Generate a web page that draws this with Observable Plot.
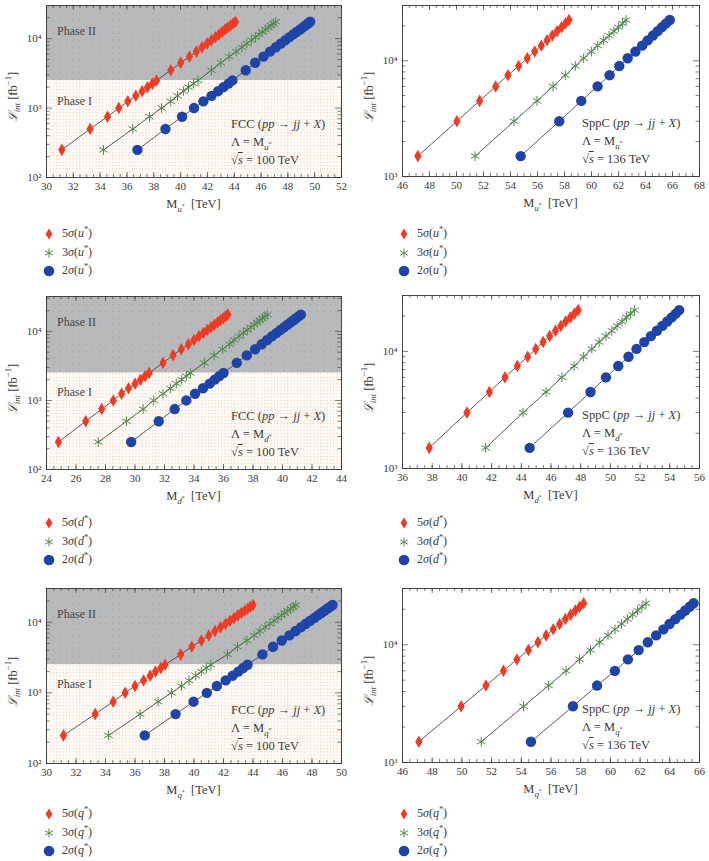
<!DOCTYPE html>
<html>
<head>
<meta charset="utf-8">
<script src="https://cdn.jsdelivr.net/npm/d3@7"></script>
<script src="https://cdn.jsdelivr.net/npm/@observablehq/plot@0.6"></script>
<style>
  body { margin: 0; background: #fff; }
  #fig { position: relative; width: 709px; height: 861px; font-family: "Liberation Serif", "DejaVu Serif", serif; color: #3a3a3a; }
  .abs { position: absolute; white-space: nowrap; }
  .ylab { font-size: 12.5px; transform: translate(-50%, -50%) rotate(-90deg); }
  .xlab { font-size: 12.5px; transform: translateX(-50%); }
  .ann { font-size: 12.5px; line-height: 18px; }
  .phase { font-size: 12px; color: #444; transform: translateY(-50%); }
  .leg { font-size: 12px; line-height: 18.5px; }
  .leg div { position: relative; height: 18.5px; }
  .leg svg { position: absolute; left: -7px; top: 3px; }
  .leg span { position: absolute; left: 13px; top: 0; }
  sub, sup { font-size: 70%; line-height: 0; }
</style>
</head>
<body>
<div id="fig"></div>
<script>
// Integrated luminosity steps (fb^-1)
const L_FCC = [250, 500, 750, 1000, 1250, 1500, 1750, 2000, 2250, 2500,
  3500, 4500, 5500, 6500, 7500, 8500, 9500, 10500, 11500, 12500, 13500, 14500, 15500, 16500, 17500];
const L_SPPC = [1500, 3000, 4500, 6000, 7500, 9000, 10500, 12000, 13500, 15000, 16500, 18000, 19500, 21000, 22500];
const PHASE_I_LIMIT = 2500;

// FCC reach, u* (TeV)
const uFCC_5s = [31.14, 33.25, 34.55, 35.39, 36.06, 36.66, 37.13, 37.53, 37.9, 38.2, 39.27, 40.01, 40.66, 41.18, 41.6, 41.98, 42.3, 42.6, 42.86, 43.1, 43.32, 43.52, 43.72, 43.92, 44.1];
const uFCC_3s = [34.25, 36.44, 37.68, 38.58, 39.27, 39.77, 40.22, 40.59, 40.96, 41.3, 42.3, 43.0, 43.62, 44.15, 44.57, 44.94, 45.28, 45.58, 45.85, 46.1, 46.32, 46.54, 46.74, 46.92, 47.1];
const uFCC_2s = [36.78, 38.87, 40.11, 41.0, 41.7, 42.3, 42.8, 43.2, 43.57, 43.87, 44.86, 45.56, 46.18, 46.67, 47.1, 47.48, 47.82, 48.12, 48.4, 48.66, 48.9, 49.12, 49.32, 49.5, 49.66];
// SppC reach, u*
const uSPPC_5s = [47.14, 50.03, 51.71, 52.9, 53.81, 54.6, 55.24, 55.79, 56.28, 56.71, 57.1, 57.45, 57.78, 58.07, 58.33];
const uSPPC_3s = [51.38, 54.26, 55.96, 57.15, 58.06, 58.8, 59.42, 59.99, 60.46, 60.9, 61.3, 61.66, 61.99, 62.3, 62.56];
const uSPPC_2s = [54.75, 57.61, 59.24, 60.45, 61.34, 62.06, 62.68, 63.25, 63.75, 64.16, 64.55, 64.9, 65.22, 65.52, 65.8];

// FCC reach, d*
const dFCC_5s = [24.81, 26.66, 27.74, 28.53, 29.09, 29.56, 30.0, 30.37, 30.69, 30.96, 31.9, 32.58, 33.14, 33.62, 34.0, 34.33, 34.63, 34.9, 35.15, 35.38, 35.6, 35.8, 35.98, 36.15, 36.3];
const dFCC_3s = [27.51, 29.43, 30.55, 31.27, 31.9, 32.4, 32.8, 33.16, 33.48, 33.75, 34.7, 35.37, 35.93, 36.4, 36.72, 37.05, 37.35, 37.61, 37.86, 38.08, 38.28, 38.47, 38.65, 38.81, 38.97];
const dFCC_2s = [29.74, 31.61, 32.69, 33.48, 34.07, 34.61, 35.06, 35.4, 35.71, 36.0, 36.9, 37.58, 38.14, 38.59, 38.96, 39.29, 39.6, 39.87, 40.12, 40.34, 40.54, 40.74, 40.92, 41.09, 41.25];
// SppC reach, d*
const dSPPC_5s = [37.8, 40.34, 41.85, 42.9, 43.73, 44.43, 44.97, 45.47, 45.91, 46.3, 46.66, 46.99, 47.3, 47.58, 47.83];
const dSPPC_3s = [41.6, 44.12, 45.67, 46.73, 47.56, 48.2, 48.75, 49.24, 49.7, 50.1, 50.45, 50.78, 51.08, 51.36, 51.62];
const dSPPC_2s = [44.56, 47.15, 48.66, 49.7, 50.53, 51.22, 51.76, 52.28, 52.73, 53.13, 53.5, 53.83, 54.13, 54.4, 54.63];

// FCC reach, q*
const qFCC_5s = [31.15, 33.3, 34.52, 35.33, 36.0, 36.58, 37.03, 37.39, 37.75, 38.04, 39.1, 39.85, 40.5, 41.0, 41.42, 41.8, 42.14, 42.44, 42.72, 42.98, 43.21, 43.43, 43.63, 43.82, 44.0];
const qFCC_3s = [34.2, 36.35, 37.57, 38.47, 39.15, 39.67, 40.12, 40.5, 40.84, 41.14, 42.27, 42.95, 43.58, 44.08, 44.46, 44.82, 45.14, 45.43, 45.69, 45.93, 46.15, 46.35, 46.55, 46.73, 46.9];
const qFCC_2s = [36.66, 38.75, 39.97, 40.87, 41.55, 42.15, 42.62, 43.0, 43.33, 43.63, 44.64, 45.36, 45.95, 46.47, 46.89, 47.26, 47.59, 47.88, 48.16, 48.4, 48.63, 48.84, 49.03, 49.22, 49.39];
// SppC reach, q*
const qSPPC_5s = [47.1, 49.95, 51.62, 52.8, 53.7, 54.48, 55.12, 55.67, 56.15, 56.58, 56.97, 57.32, 57.64, 57.93, 58.2];
const qSPPC_3s = [51.3, 54.15, 55.84, 57.02, 57.92, 58.66, 59.28, 59.84, 60.31, 60.75, 61.14, 61.5, 61.83, 62.13, 62.4];
const qSPPC_2s = [54.65, 57.48, 59.1, 60.3, 61.18, 61.9, 62.52, 63.08, 63.57, 63.98, 64.37, 64.72, 65.04, 65.34, 65.6];

// Axis tick labels
const xTicks_uFCC = d3.range(30, 53, 2);
const xTicks_uSPPC = d3.range(46, 69, 2);
const xTicks_dFCC = d3.range(24, 45, 2);
const xTicks_dSPPC = d3.range(36, 57, 2);
const xTicks_qFCC = d3.range(30, 51, 2);
const xTicks_qSPPC = d3.range(46, 67, 2);
const yTicks_FCC = [100, 1000, 10000];
const yTicks_SPPC = [1000, 10000];

const sigmaLevels = ["5", "3", "2"];
const COLORS = { "5": "#ef3a24", "3": "#4f8b4c", "2": "#1f44a8" };

const panels = [
  { id: "uF", q: "u", fcc: true,  left: 0,   top: 0,   fx: 46, fy: 5, fw: 295, fh: 172, xdom: [30, 52], ydom: [100, 30000], xticks: xTicks_uFCC, yticks: yTicks_FCC, L: L_FCC, M: [uFCC_5s, uFCC_3s, uFCC_2s], legTop: 224 },
  { id: "uS", q: "u", fcc: false, left: 356, top: 0,   fx: 46, fy: 5, fw: 297, fh: 171, xdom: [46, 68], ydom: [1000, 30000], xticks: xTicks_uSPPC, yticks: yTicks_SPPC, L: L_SPPC, M: [uSPPC_5s, uSPPC_3s, uSPPC_2s], legTop: 224 },
  { id: "dF", q: "d", fcc: true,  left: 0,   top: 291, fx: 46, fy: 5, fw: 295, fh: 173, xdom: [24, 44], ydom: [100, 32000], xticks: xTicks_dFCC, yticks: yTicks_FCC, L: L_FCC, M: [dFCC_5s, dFCC_3s, dFCC_2s], legTop: 513 },
  { id: "dS", q: "d", fcc: false, left: 356, top: 290, fx: 46, fy: 5, fw: 297, fh: 173, xdom: [36, 56], ydom: [1000, 30000], xticks: xTicks_dSPPC, yticks: yTicks_SPPC, L: L_SPPC, M: [dSPPC_5s, dSPPC_3s, dSPPC_2s], legTop: 513 },
  { id: "qF", q: "q", fcc: true,  left: 0,   top: 583, fx: 46, fy: 5, fw: 295, fh: 175, xdom: [30, 50], ydom: [100, 30000], xticks: xTicks_qFCC, yticks: yTicks_FCC, L: L_FCC, M: [qFCC_5s, qFCC_3s, qFCC_2s], legTop: 804 },
  { id: "qS", q: "q", fcc: false, left: 356, top: 583, fx: 46, fy: 5, fw: 297, fh: 174, xdom: [46, 66], ydom: [1000, 30000], xticks: xTicks_qSPPC, yticks: yTicks_SPPC, L: L_SPPC, M: [qSPPC_5s, qSPPC_3s, qSPPC_2s], legTop: 804 }
];

const SUP = { "2": "²", "3": "³", "4": "⁴" };
const fig = document.getElementById("fig");
const SVGNS = "http://www.w3.org/2000/svg";

function minorLogTicks([lo, hi]) {
  const out = [];
  for (let e = Math.floor(Math.log10(lo)); e <= Math.ceil(Math.log10(hi)); e++) {
    for (let k = 2; k <= 9; k++) {
      const v = k * 10 ** e;
      if (v > lo && v < hi) out.push(v);
    }
  }
  return out;
}

function addHTML(html, cls, style) {
  const el = document.createElement("div");
  el.className = "abs " + cls;
  Object.assign(el.style, style);
  el.innerHTML = html;
  fig.appendChild(el);
  return el;
}

const legendSymbol = {
  "5": `<svg width="14" height="14"><path d="M7,1.5 L10.4,7 L7,12.5 L3.6,7 Z" fill="${COLORS["5"]}"/></svg>`,
  "3": `<svg width="14" height="14"><g stroke="${COLORS["3"]}" stroke-width="1"><line x1="7" y1="2.5" x2="7" y2="11.5"/><line x1="3.1" y1="4.75" x2="10.9" y2="9.25"/><line x1="3.1" y1="9.25" x2="10.9" y2="4.75"/></g></svg>`,
  "2": `<svg width="14" height="14"><circle cx="7" cy="7" r="5.3" fill="${COLORS["2"]}"/></svg>`
};

panels.forEach((p) => {
  const W = p.fx + p.fw + (p.left === 0 ? 14 : 8);
  const H = p.fy + p.fh + 22;
  const rows = [];
  sigmaLevels.forEach((s, j) => p.M[j].forEach((m, i) => rows.push({ M: m, L: p.L[i], s })));
  const bg = [{}];
  const xMinor = d3.range(p.xdom[0], p.xdom[1] + 0.001, 0.5);
  const yMinor = minorLogTicks(p.ydom);
  const tickStyle = { stroke: "#444", strokeWidth: 0.7 };

  const marks = [];
  if (p.fcc) {
    marks.push(
      Plot.rect(bg, { x1: p.xdom[0], x2: p.xdom[1], y1: p.ydom[0], y2: PHASE_I_LIMIT, fill: `url(#lo-${p.id})` }),
      Plot.rect(bg, { x1: p.xdom[0], x2: p.xdom[1], y1: PHASE_I_LIMIT, y2: p.ydom[1], fill: "#b8b9bb" }),
      Plot.rect(bg, { x1: p.xdom[0], x2: p.xdom[1], y1: PHASE_I_LIMIT, y2: p.ydom[1], fill: `url(#hi-${p.id})` })
    );
  }
  marks.push(
    // inward ticks on all four sides
    Plot.tickX(p.xticks, { x: (d) => d, insetTop: p.fh - 5, ...tickStyle }),
    Plot.tickX(p.xticks, { x: (d) => d, insetBottom: p.fh - 5, ...tickStyle }),
    Plot.tickX(xMinor, { x: (d) => d, insetTop: p.fh - 3, ...tickStyle }),
    Plot.tickX(xMinor, { x: (d) => d, insetBottom: p.fh - 3, ...tickStyle }),
    Plot.tickY(p.yticks, { y: (d) => d, insetRight: p.fw - 6, ...tickStyle }),
    Plot.tickY(p.yticks, { y: (d) => d, insetLeft: p.fw - 6, ...tickStyle }),
    Plot.tickY(yMinor, { y: (d) => d, insetRight: p.fw - 3.5, ...tickStyle }),
    Plot.tickY(yMinor, { y: (d) => d, insetLeft: p.fw - 3.5, ...tickStyle }),
    Plot.axisX(p.xticks, { tickSize: 0, tickPadding: 5, fontSize: 11, label: null, tickFormat: (d) => d }),
    Plot.axisY(p.yticks, { tickSize: 0, tickPadding: 5, fontSize: 11, label: null, tickFormat: (d) => "10" + SUP[String(Math.round(Math.log10(d)))] }),
    Plot.line(rows, { x: "M", y: "L", z: "s", stroke: "#333", strokeWidth: 0.8 }),
    Plot.dot(rows.filter((d) => d.s === "2"), { x: "M", y: "L", r: 5.2, fill: COLORS["2"], symbol: "circle" }),
    Plot.dot(rows.filter((d) => d.s === "3"), { x: "M", y: "L", r: 4.6, stroke: COLORS["3"], strokeWidth: 1, symbol: "asterisk" }),
    Plot.dot(rows.filter((d) => d.s === "5"), { x: "M", y: "L", r: 3.8, fill: COLORS["5"], symbol: "diamond" }),
    Plot.frame({ stroke: "#333", strokeWidth: 0.9 })
  );

  const svg = Plot.plot({
    width: W,
    height: H,
    marginLeft: p.fx,
    marginTop: p.fy,
    marginRight: W - p.fx - p.fw,
    marginBottom: H - p.fy - p.fh,
    x: { domain: p.xdom },
    y: { type: "log", domain: p.ydom },
    style: { fontFamily: "'Liberation Serif', 'DejaVu Serif', serif", color: "#3a3a3a", background: "transparent", overflow: "visible" },
    marks
  });

  if (p.fcc) {
    const defs = document.createElementNS(SVGNS, "defs");
    defs.innerHTML =
      `<pattern id="lo-${p.id}" width="3.3" height="3.3" patternUnits="userSpaceOnUse">` +
      `<rect width="3.3" height="3.3" fill="#fffdfb"/><rect width="1.1" height="1.1" fill="#f1c4a2"/></pattern>` +
      `<pattern id="hi-${p.id}" width="6.6" height="6.6" patternUnits="userSpaceOnUse">` +
      `<rect width="1" height="1" fill="#9a9a9c"/></pattern>`;
    svg.insertBefore(defs, svg.firstChild);
  }

  svg.style.position = "absolute";
  svg.style.left = p.left + "px";
  svg.style.top = p.top + "px";
  fig.appendChild(svg);

  const fL = p.left + p.fx, fT = p.top + p.fy, fR = fL + p.fw, fB = fT + p.fh;

  // axis titles
  addHTML(`<i>ℒ</i><sub><i>int</i></sub> [fb<sup>−1</sup>]`, "ylab", { left: (p.left + 12) + "px", top: ((fT + fB) / 2 + 6) + "px" });
  addHTML(`M<sub><i>${p.q}</i><sup>*</sup></sub>&nbsp; [TeV]`, "xlab", { left: ((fL + fR) / 2) + "px", top: (fB + 20) + "px" });

  // collider annotation
  const ann = p.fcc
    ? [`FCC (<i>pp</i> → <i>jj</i> + <i>X</i>)`, `Λ = M<sub><i>${p.q}</i><sup>*</sup></sub>`, `√<span style="text-decoration:overline"><i>s</i></span> = 100 TeV`]
    : [`SppC (<i>pp</i> → <i>jj</i> + <i>X</i>)`, `Λ = M<sub><i>${p.q}</i><sup>*</sup></sub>`, `√<span style="text-decoration:overline"><i>s</i></span> = 136 TeV`];
  addHTML(ann.map((t) => `<div>${t}</div>`).join(""), "ann", { left: (fR - (p.fcc ? 110 : 117)) + "px", top: (fB - 62) + "px" });

  if (p.fcc) {
    addHTML("Phase II", "phase", { left: (fL + 11) + "px", top: (fT + 26) + "px" });
    addHTML("Phase I", "phase", { left: (fL + 11) + "px", top: (fT + 96) + "px" });
  }

  // legend
  const leg = sigmaLevels.map((s) =>
    `<div>${legendSymbol[s]}<span>${s}<i>σ</i>(<i>${p.q}</i><sup>*</sup>)</span></div>`).join("");
  addHTML(leg, "leg", { left: (p.left + (p.left === 0 ? 49 : 48)) + "px", top: p.legTop + "px" });
});
</script>
</body>
</html>
